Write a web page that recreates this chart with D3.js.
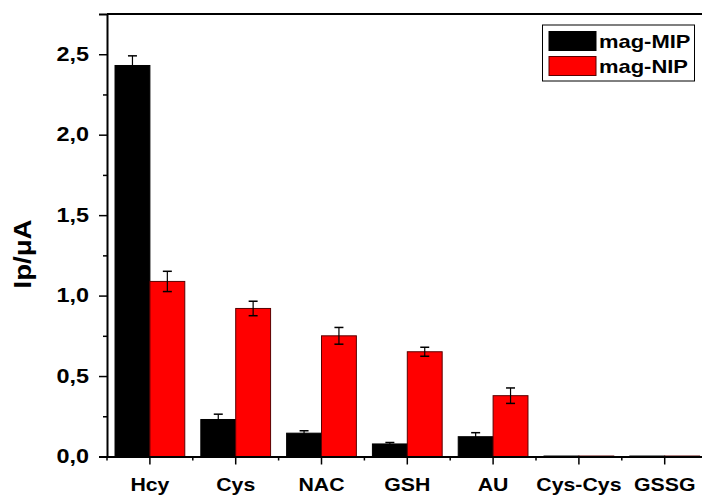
<!DOCTYPE html>
<html>
<head>
<meta charset="utf-8">
<script src="https://cdn.jsdelivr.net/npm/d3@7"></script>
<style>
  html, body { margin: 0; padding: 0; background: #fff; }
  svg { display: block; font-family: "Liberation Sans", Arial, sans-serif; }
</style>
</head>
<body>
<svg id="chart" width="702" height="496"></svg>
<script>
// Analytes tested
const categories = ["Hcy", "Cys", "NAC", "GSH", "AU", "Cys-Cys", "GSSG"];
// Peak current (µA) per material
const seriesNames = ["mag-MIP", "mag-NIP"];
const mipValues = [2.43, 0.23, 0.145, 0.078, 0.123, 0.003, 0.003];
const nipValues = [1.088, 0.92, 0.75, 0.651, 0.378, 0.003, 0.003];
// Standard deviations
const mipErrors = [0.06, 0.033, 0.015, 0.009, 0.025, 0, 0];
const nipErrors = [0.063, 0.045, 0.052, 0.028, 0.048, 0, 0];
const yTicks = [0, 0.5, 1.0, 1.5, 2.0, 2.5];
const yMinorTicks = [0.25, 0.75, 1.25, 1.75, 2.25];
const colors = ["#000000", "#ff0000"];

const svg = d3.select("#chart");
const plotLeft = 107, plotRight = 707.6, plotTop = 14, plotBottom = 456.5;
const FONT = "'Liberation Sans', Arial, sans-serif";

const x = d3.scaleBand().domain(categories).range([plotLeft, plotRight]).paddingInner(0).paddingOuter(0);
const xInner = d3.scaleBand().domain(seriesNames).range([0, x.bandwidth()]).paddingInner(0).paddingOuter(0.23);
const y = d3.scaleLinear().domain([0, 2.75]).range([plotBottom, plotTop]);

const rows = categories.map((c, i) => ({
  cat: c,
  vals: [
    { s: seriesNames[0], v: mipValues[i], e: mipErrors[i], color: colors[0] },
    { s: seriesNames[1], v: nipValues[i], e: nipErrors[i], color: colors[1] }
  ]
}));

// Bars
const groups = svg.append("g").selectAll("g").data(rows).join("g")
  .attr("transform", d => `translate(${x(d.cat)},0)`);

groups.selectAll("rect").data(d => d.vals).join("rect")
  .attr("x", d => xInner(d.s))
  .attr("y", d => y(d.v))
  .attr("width", xInner.bandwidth())
  .attr("height", d => y(0) - y(d.v))
  .attr("fill", d => d.color)
  .attr("stroke", d => d.color === "#000000" ? "#000" : "#5a0000")
  .attr("stroke-width", 1);

// Error bars
const eb = groups.selectAll("g.err").data(d => d.vals.filter(v => v.e > 0)).join("g").attr("class", "err")
  .attr("transform", d => `translate(${xInner(d.s) + xInner.bandwidth() / 2},0)`);
eb.append("line").attr("x1", 0).attr("x2", 0)
  .attr("y1", d => y(d.v - d.e)).attr("y2", d => y(d.v + d.e))
  .attr("stroke", "#000").attr("stroke-width", 1.2);
eb.append("line").attr("x1", -4.5).attr("x2", 4.5)
  .attr("y1", d => y(d.v + d.e)).attr("y2", d => y(d.v + d.e))
  .attr("stroke", "#000").attr("stroke-width", 1.5);
eb.append("line").attr("x1", -4.5).attr("x2", 4.5)
  .attr("y1", d => y(d.v - d.e)).attr("y2", d => y(d.v - d.e))
  .attr("stroke", "#000").attr("stroke-width", 1.5);

// Y axis
const yAxis = svg.append("g").attr("transform", `translate(${plotLeft},0)`)
  .call(d3.axisLeft(y).tickValues(yTicks).tickSize(8).tickPadding(10)
    .tickFormat(d => d3.format(".1f")(d).replace(".", ",")));
svg.append("g").attr("transform", `translate(${plotLeft},0)`)
  .call(d3.axisLeft(y).tickValues(yMinorTicks).tickSize(4).tickFormat(""))
  .call(g => g.select(".domain").remove());

// X axis
const xAxis = svg.append("g").attr("transform", `translate(0,${plotBottom})`)
  .call(d3.axisBottom(x).tickSize(8).tickPadding(13.5).tickSizeOuter(0));
const minorX = categories.map(c => x(c));
svg.append("g").selectAll("line").data(minorX).join("line")
  .attr("x1", d => d).attr("x2", d => d)
  .attr("y1", plotBottom).attr("y2", plotBottom + 4)
  .attr("stroke", "#000").attr("stroke-width", 1.5);

[yAxis, xAxis].forEach(g => {
  g.select(".domain").attr("stroke", "#000").attr("stroke-width", 2);
  g.selectAll(".tick text").attr("fill", "#000").attr("font-weight", "bold")
    .attr("font-family", FONT);
});
svg.selectAll("g .tick line").attr("stroke", "#000").attr("stroke-width", 1.5);

// Wide bold labels: stretch glyphs horizontally around their anchor
const ySx = 1.2;
yAxis.selectAll(".tick text").attr("font-size", 19.5)
  .attr("x", -18 / ySx)
  .attr("transform", `scale(${ySx},1)`);
const xSx = 1.12;
xAxis.selectAll(".tick text").attr("font-size", 19)
  .attr("transform", `scale(${xSx},1)`);

// Top frame line
svg.append("line").attr("x1", plotLeft).attr("x2", plotRight).attr("y1", plotTop).attr("y2", plotTop)
  .attr("stroke", "#000").attr("stroke-width", 2);

// Y axis title
svg.append("text")
  .attr("transform", `translate(31,254) rotate(-90) scale(1.15,1)`)
  .attr("text-anchor", "middle")
  .attr("font-size", 24).attr("font-weight", "bold").attr("fill", "#000")
  .attr("font-family", FONT)
  .text("Ip/μA");

// Legend
const lg = svg.append("g");
lg.append("rect").attr("x", 542.5).attr("y", 25).attr("width", 152).attr("height", 56)
  .attr("fill", "#fff").attr("stroke", "#000").attr("stroke-width", 1);
const lgSx = 1.22;
seriesNames.forEach((name, i) => {
  const yy = 31.5 + i * 25;
  lg.append("rect").attr("x", 549).attr("y", yy).attr("width", 47).attr("height", 19)
    .attr("fill", colors[i]).attr("stroke", i === 0 ? "#000" : "#5a0000").attr("stroke-width", 1);
  lg.append("text")
    .attr("transform", `translate(599,${yy + 16.5}) scale(${lgSx},1)`)
    .attr("font-size", 18).attr("font-weight", "bold").attr("fill", "#000")
    .attr("font-family", FONT).text(name);
});
</script>
</body>
</html>
